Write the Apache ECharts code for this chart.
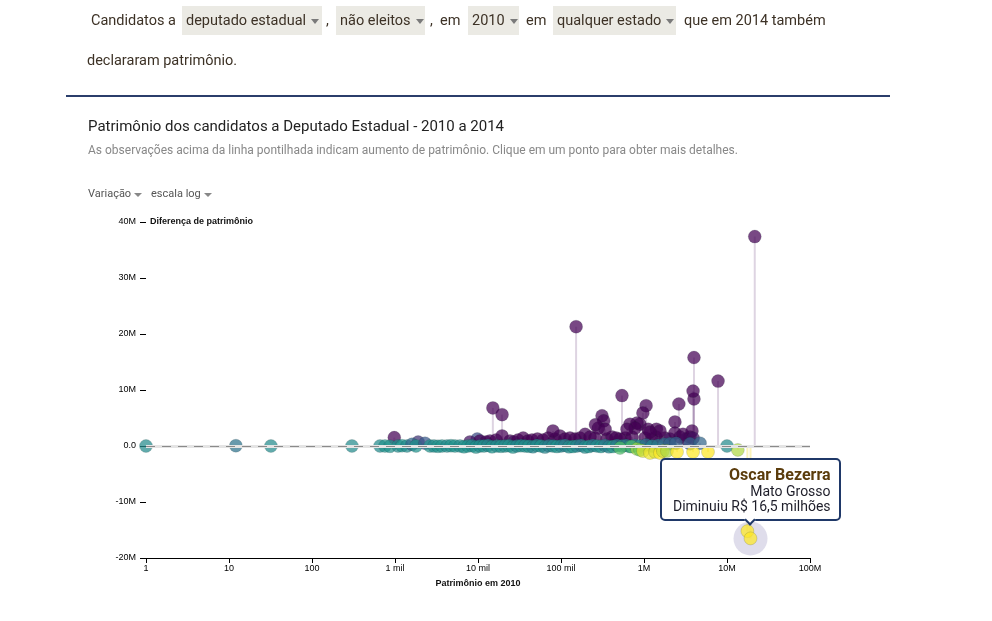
<!DOCTYPE html>
<html>
<head>
<meta charset="utf-8">
<title>Patrimônio dos candidatos</title>
<script src="https://cdn.jsdelivr.net/npm/echarts@6/dist/echarts.min.js"></script>
<style>
  body { margin: 0; background: #fff; font-family: Roboto, sans-serif; }
  #chart { position: absolute; left: 0; top: 0; width: 992px; height: 621px; }
  .t { position: absolute; top: 6px; height: 29px; line-height: 29px; font-size: 14.5px; color: #3d3226; white-space: nowrap; z-index: 5; }
  .box { background: #ebeae4; padding-left: 4px; box-sizing: border-box; }
  .seta { display: inline-block; width: 0; height: 0; border-left: 4px solid transparent; border-right: 4px solid transparent; border-top: 5px solid #7a7a7a; vertical-align: middle; margin-left: 5px; }
  #linha { position: absolute; left: 66px; top: 95px; width: 824px; height: 2px; background: #2b3e6b; z-index: 5; }
</style>
</head>
<body>
<div id="chart"></div>

<!-- frase de filtros -->
<div class="t" style="left:91px">Candidatos a</div>
<div class="t box" style="left:182px;width:140px">deputado estadual<span class="seta"></span></div>
<div class="t" style="left:326px">,</div>
<div class="t box" style="left:336px;width:89px">não eleitos<span class="seta"></span></div>
<div class="t" style="left:430px">,</div>
<div class="t" style="left:440px">em</div>
<div class="t box" style="left:468px;width:51px">2010<span class="seta"></span></div>
<div class="t" style="left:526px">em</div>
<div class="t box" style="left:553px;width:123px">qualquer estado<span class="seta"></span></div>
<div class="t" style="left:684px">que em 2014 também</div>
<div class="t" style="left:87px;top:46px">declararam patrimônio.</div>
<div id="linha"></div>

<script>
// patrimonio declarado em 2010 (R$)
var patrimonio2010 = [
  // aumento pequeno, faixa roxa
  980, 9800, 1900, 8000, 10570, 12480, 13960, 16480, 24300, 27150, 30300, 35000, 40000, 44700, 52000, 60700, 70000, 84700, 97000, 111700,
  128300, 147500, 169400, 195000, 224000, 256900, 358400, 411400, 460000, 514000, 590000, 716600, 1028000, 1248000, 1395000, 1791000, 2056000, 2716000, 3206000, 3583000,
  // maiores aumentos
  15100, 19500, 19500, 152000, 543000, 1060000, 970000, 890000, 822000, 312000, 327000, 282000, 260000, 340000, 2630000, 4000000, 3900000, 4000000, 7800000, 21600000,
  2360000, 2360000, 2950000, 3790000, 3900000, 1120000, 1410000, 1560000, 1180000, 678000, 779000, 624000, 80000,
  // praticamente sem variacao
  1, 12.1, 32, 303, 660, 758, 871, 1087, 1214, 1396, 1603, 1791, 2297, 2641, 2951, 3297, 3683, 4234, 4730, 5284,
  6073, 6785, 7580, 8469, 9461, 10570, 11810, 13190, 14740, 16940, 18920, 21140, 23620, 26390, 29480, 32930, 36790, 41100, 45920, 51300,
  57310, 64030, 71530, 79910, 89280, 100000, 111700, 124700, 139400, 155700, 174000, 194400, 217200, 242600, 271000, 302800, 338300, 377900, 422200, 471700,
  543000, 606700, 677800, 779200, 895800, 1058000, 1248000, 1475000, 1742000, 2056000, 2430000, 3583000, 4730000, 10000000,
  // queda
  514000, 711000, 822000, 896000, 972000, 1181000, 1360000, 1560000, 1690000, 1893000, 2500000, 3900000, 5900000, 13500000, 17600000, 19200000
];
// diferenca 2014 - 2010 (R$ milhoes)
var diferenca = [
  1.5, 1.25, 0.7, 0.72, 0.9, 0.72, 0.9, 1.07, 0.9, 0.72, 1.07, 1.43, 0.9, 1.07, 1.25, 1.07, 1.43, 1.25, 1.8, 1.25,
  1.43, 1.25, 1.43, 2.1, 1.6, 1.43, 1.25, 1.6, 1.43, 1.25, 1.43, 1.6, 1.43, 1.25, 1.6, 1.43, 1.25, 1.6, 1.25, 1.6,
  6.8, 5.6, 1.8, 21.3, 9.0, 7.2, 5.9, 3.9, 4.1, 5.4, 4.5, 3.2, 3.8, 3.0, 7.5, 8.4, 9.8, 15.8, 11.6, 37.4,
  4.3, 2.3, 2.1, 2.7, 1.4, 3.0, 3.0, 2.7, 2.5, 3.9, 3.2, 3.0, 2.7,
  0, 0.05, 0, 0, 0, 0, -0.05, 0, 0.05, 0, 0.3, 0, 0.5, 0, 0, -0.05, 0, 0, 0.05, 0,
  0, -0.15, 0, 0.05, -0.2, 0, 0, 0.1, -0.15, 0, -0.05, 0, 0.05, -0.2, 0, 0.05, 0, -0.05, -0.15, 0.1,
  0, -0.2, 0.05, 0, -0.1, 0, 0.1, -0.15, -0.1, 0, 0.1, -0.2, -0.1, 0.1, 0, -0.1, 0.1, -0.15, -0.1, 0.1,
  0, 0.1, -0.1, 0.1, 0, 0.2, 0, 0.1, 0.3, 0.4, 0.5, 0.4, 0.5, 0,
  -0.36, -0.1, -0.54, -0.7, -0.9, -1.25, -1.07, -1.25, -0.9, -0.9, -1.07, -1.07, -1.07, -0.7, -15.2, -16.5
];
// variacao relativa (%) usada na cor
var variacao = [
  100, 55, 70, 90, 100, 95, 100, 100, 100, 90, 100, 100, 100, 100, 100, 100, 100, 100, 100, 100,
  100, 100, 100, 100, 100, 100, 100, 100, 100, 100, 100, 100, 100, 100, 100, 100, 90, 90, 85, 90,
  100, 100, 100, 100, 100, 100, 100, 100, 100, 100, 100, 100, 100, 100, 100, 100, 100, 100, 100, 100,
  100, 100, 100, 100, 90, 100, 100, 100, 100, 100, 100, 100, 100,
  5, 25, 5, 5, 5, 0, 0, 5, 0, 5, 35, 0, 45, 0, 5, 0, 0, 5, 0, 0,
  5, 0, 0, 5, 0, 5, 0, 10, 0, 5, 0, 5, 0, 0, 10, 0, 5, 0, 10, 5,
  0, 10, 15, 5, 0, 10, 15, 5, 0, 10, 20, 5, 0, 15, 5, 0, 20, 10, -5, 15,
  5, 20, -10, 15, 5, 25, 10, 20, 30, 35, 40, 40, 35, 5,
  -40, -35, -70, -55, -90, -95, -90, -100, -85, -75, -100, -100, -100, -75, -100, -100
];
var rotulosX = ['1', '10', '100', '1 mil', '10 mil', '100 mil', '1M', '10M', '100M'];

// candidato clicado (ultimo ponto da lista)
var destaqueNome = 'Oscar Bezerra';
var destaqueEstado = 'Mato Grosso';
var destaqueIndice = patrimonio2010.length - 1;

var pontos = [];
for (var i = 0; i < patrimonio2010.length; i++) {
  pontos.push([patrimonio2010[i], diferenca[i], variacao[i]]);
}
var destaque = [[patrimonio2010[destaqueIndice], diferenca[destaqueIndice]]];

var fonteEixo = 'Liberation Sans, Arial, sans-serif';
var chart = echarts.init(document.getElementById('chart'));

var option = {
  animation: false,
  title: {
    text: 'Patrimônio dos candidatos a Deputado Estadual - 2010 a 2014',
    subtext: 'As observações acima da linha pontilhada indicam aumento de patrimônio. Clique em um ponto para obter mais detalhes.',
    left: 88, top: 118, padding: 0, itemGap: 8,
    textStyle: { fontFamily: 'Roboto', fontSize: 15, fontWeight: 'normal', color: '#222', lineHeight: 18 },
    subtextStyle: { fontFamily: 'Roboto', fontSize: 12, color: '#888', lineHeight: 14 }
  },
  graphic: [
    { type: 'text', left: 88, top: 189, style: { text: 'Variação', font: '11px Roboto', fill: '#555' } },
    { type: 'polygon', shape: { points: [[134, 193], [142, 193], [138, 197]] }, style: { fill: '#888' } },
    { type: 'text', left: 151, top: 189, style: { text: 'escala log', font: '11px Roboto', fill: '#555' } },
    { type: 'polygon', shape: { points: [[204, 193], [212, 193], [208, 197]] }, style: { fill: '#888' } }
  ],
  grid: { left: 146, right: 182, top: 222, bottom: 63, containLabel: false, outerBoundsMode: 'none' },
  xAxis: {
    type: 'log', logBase: 10, min: 1, max: 1e8,
    name: 'Patrimônio em 2010', nameLocation: 'middle', nameGap: 21,
    nameTextStyle: { fontFamily: fonteEixo, fontSize: 9, fontWeight: 'bold', color: '#111' },
    axisLine: { show: true, onZero: false, lineStyle: { color: '#000', width: 1 } },
    axisTick: { show: true, length: 5, lineStyle: { color: '#000' } },
    minorTick: { show: false },
    splitLine: { show: false },
    axisLabel: {
      margin: 6, fontFamily: fonteEixo, fontSize: 9, color: '#000',
      formatter: function (v) { return rotulosX[Math.round(Math.log10(v))]; }
    }
  },
  yAxis: {
    type: 'value', min: -20, max: 40, interval: 10,
    name: 'Diferença de patrimônio', nameLocation: 'end', nameGap: 0,
    nameTextStyle: { fontFamily: fonteEixo, fontSize: 9, fontWeight: 'bold', color: '#111', align: 'left', verticalAlign: 'middle', padding: [0, 0, 0, 4] },
    axisLine: { show: false },
    axisTick: { show: true, length: 6, lineStyle: { color: '#000' } },
    splitLine: { show: false },
    axisLabel: {
      margin: 10, fontFamily: fonteEixo, fontSize: 9, color: '#000',
      formatter: function (v) { return v === 0 ? '0.0' : v + 'M'; }
    }
  },
  visualMap: {
    show: false, type: 'continuous', seriesIndex: 2, dimension: 2, min: -100, max: 100,
    inRange: { color: ['#fde725', '#5ec962', '#21918c', '#3b528b', '#440154'] }
  },
  tooltip: {
    trigger: 'item', triggerOn: 'click', alwaysShowContent: true, position: 'top',
    backgroundColor: '#fff', borderColor: '#1f3868', borderWidth: 2, borderRadius: 5,
    padding: [6, 8, 5, 11],
    textStyle: { fontFamily: 'Roboto', fontSize: 14, color: '#1e1e2a' },
    extraCssText: 'box-shadow:none;text-align:right;',
    formatter: function (p) {
      var d = p.value[1];
      var txt = (d < 0 ? 'Diminuiu' : 'Aumentou') + ' R$ ' + Math.abs(d).toFixed(1).replace('.', ',') + ' milhões';
      return '<div style="font-size:16px;font-weight:bold;color:#5b3c0c;line-height:17px">' + destaqueNome + '</div>' +
        '<div style="line-height:16px">' + destaqueEstado + '</div>' +
        '<div style="line-height:15px">' + txt + '</div>';
    }
  },
  series: [
    {
      // hastes ligando cada ponto a linha zero
      type: 'custom', z: 1, silent: true, tooltip: { show: false },
      encode: { x: 0, y: 1 },
      data: pontos,
      renderItem: function (params, api) {
        var x = api.value(0), y = api.value(1);
        var p0 = api.coord([x, 0]);
        var p1 = api.coord([x, y]);
        return {
          type: 'line',
          shape: { x1: p0[0], y1: p0[1], x2: p1[0], y2: p1[1] },
          style: { stroke: y >= 0 ? 'rgba(90,40,110,0.2)' : 'rgba(240,220,60,0.35)', lineWidth: 2 }
        };
      },
      markLine: {
        silent: true, symbol: 'none', label: { show: false },
        data: [
          { yAxis: 0, lineStyle: { color: '#e4e4e4', width: 3, type: 'solid' } },
          { yAxis: 0, lineStyle: { color: '#8a8a8a', width: 1.2, type: [9, 7] } }
        ]
      }
    },
    {
      // halo do ponto selecionado
      type: 'scatter', z: 2, silent: true, tooltip: { show: false },
      symbolSize: 34, data: destaque,
      itemStyle: { color: 'rgba(165,160,200,0.45)' }
    },
    {
      type: 'scatter', z: 3,
      symbolSize: 13, data: pontos,
      itemStyle: { opacity: 0.72, borderColor: 'rgba(20,40,40,0.35)', borderWidth: 0.6 },
      emphasis: { disabled: true }
    }
  ]
};
chart.setOption(option);
chart.dispatchAction({ type: 'showTip', seriesIndex: 2, dataIndex: destaqueIndice });
</script>
</body>
</html>
